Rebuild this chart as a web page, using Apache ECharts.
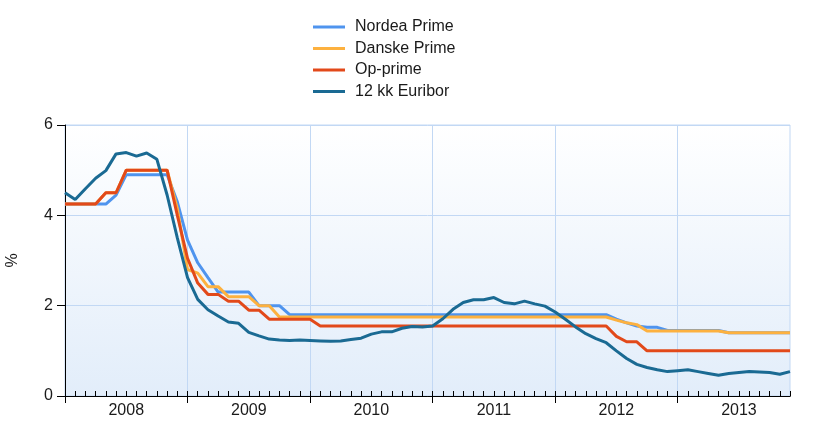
<!DOCTYPE html>
<html>
<head>
<meta charset="utf-8">
<script src="https://cdn.jsdelivr.net/npm/echarts@6/dist/echarts.min.js"></script>
<style>
html,body{margin:0;padding:0;background:#fff;}
#chart{width:818px;height:426px;}
</style>
</head>
<body>
<div id="chart"></div>
<script>
// Years and months of the category axis (one point per month, Jan 2008 .. Dec 2013)
var years = ['2008', '2009', '2010', '2011', '2012', '2013'];
var monthNames = ['01', '02', '03', '04', '05', '06', '07', '08', '09', '10', '11', '12'];
var categories = [];
years.forEach(function (y) { monthNames.forEach(function (m) { categories.push(y + '-' + m); }); });

var seriesNames = ['Nordea Prime', 'Danske Prime', 'Op-prime', '12 kk Euribor'];

var nordeaPrime = [
  4.25, 4.25, 4.25, 4.25, 4.25, 4.45, 4.9, 4.9, 4.9, 4.9, 4.9, 4.3,
  3.45, 2.95, 2.62, 2.3, 2.3, 2.3, 2.3, 2.0, 2.0, 2.0, 1.8, 1.8,
  1.8, 1.8, 1.8, 1.8, 1.8, 1.8, 1.8, 1.8, 1.8, 1.8, 1.8, 1.8,
  1.8, 1.8, 1.8, 1.8, 1.8, 1.8, 1.8, 1.8, 1.8, 1.8, 1.8, 1.8,
  1.8, 1.8, 1.8, 1.8, 1.8, 1.8, 1.7, 1.62, 1.55, 1.52, 1.52, 1.45,
  1.45, 1.45, 1.45, 1.45, 1.45, 1.4, 1.4, 1.4, 1.4, 1.4, 1.4, 1.4
];
var danskePrime = [
  4.25, 4.25, 4.25, 4.25, 4.5, 4.5, 5.0, 5.0, 5.0, 5.0, 5.0, 4.15,
  2.8, 2.72, 2.42, 2.42, 2.2, 2.2, 2.2, 2.0, 2.0, 1.75, 1.75, 1.75,
  1.75, 1.75, 1.75, 1.75, 1.75, 1.75, 1.75, 1.75, 1.75, 1.75, 1.75, 1.75,
  1.75, 1.75, 1.75, 1.75, 1.75, 1.75, 1.75, 1.75, 1.75, 1.75, 1.75, 1.75,
  1.75, 1.75, 1.75, 1.75, 1.75, 1.75, 1.68, 1.62, 1.58, 1.44, 1.44, 1.44,
  1.44, 1.44, 1.44, 1.44, 1.44, 1.4, 1.4, 1.4, 1.4, 1.4, 1.4, 1.4
];
var opPrime = [
  4.25, 4.25, 4.25, 4.25, 4.5, 4.5, 5.0, 5.0, 5.0, 5.0, 5.0, 4.0,
  3.05, 2.5, 2.25, 2.25, 2.1, 2.1, 1.9, 1.9, 1.7, 1.7, 1.7, 1.7,
  1.7, 1.55, 1.55, 1.55, 1.55, 1.55, 1.55, 1.55, 1.55, 1.55, 1.55, 1.55,
  1.55, 1.55, 1.55, 1.55, 1.55, 1.55, 1.55, 1.55, 1.55, 1.55, 1.55, 1.55,
  1.55, 1.55, 1.55, 1.55, 1.55, 1.55, 1.32, 1.2, 1.2, 1.0, 1.0, 1.0,
  1.0, 1.0, 1.0, 1.0, 1.0, 1.0, 1.0, 1.0, 1.0, 1.0, 1.0, 1.0
];
var euribor12 = [
  4.50, 4.35, 4.59, 4.82, 4.99, 5.36, 5.39, 5.31, 5.38, 5.24, 4.45, 3.50,
  2.62, 2.14, 1.91, 1.77, 1.64, 1.61, 1.41, 1.33, 1.26, 1.24, 1.23, 1.24,
  1.23, 1.22, 1.21, 1.22, 1.25, 1.28, 1.37, 1.42, 1.42, 1.50, 1.54, 1.53,
  1.55, 1.71, 1.92, 2.07, 2.13, 2.13, 2.18, 2.07, 2.04, 2.10, 2.04, 1.99,
  1.86, 1.70, 1.53, 1.38, 1.27, 1.18, 1.00, 0.83, 0.70, 0.63, 0.58, 0.54,
  0.56, 0.58, 0.54, 0.50, 0.46, 0.50, 0.52, 0.54, 0.53, 0.52, 0.48, 0.54
];
var yTicks = { min: 0, max: 6, interval: 2 };

var colors = ['#4f94ee', '#fdb13f', '#e2491a', '#1a6a93'];
var values = [nordeaPrime, danskePrime, opPrime, euribor12];

var chart = echarts.init(document.getElementById('chart'), null, { renderer: 'canvas' });
var font = 'Liberation Sans, Arial, sans-serif';
var gridBlue = '#c2d8f4';

chart.setOption({
  animation: false,
  backgroundColor: '#ffffff',
  color: colors,
  legend: {
    data: seriesNames,
    orient: 'vertical',
    left: 313,
    top: 19,
    padding: 0,
    icon: 'rect',
    itemWidth: 32,
    itemHeight: 3,
    itemGap: 5.5,
    textStyle: { fontFamily: font, fontSize: 16, color: '#1a1a1a', padding: [0, 0, 0, 5] }
  },
  grid: {
    left: 65, right: 28, top: 125, bottom: 30,
    containLabel: false,
    outerBoundsMode: 'none',
    show: true,
    borderColor: gridBlue,
    borderWidth: 1,
    backgroundColor: new echarts.graphic.LinearGradient(0, 0, 0, 1, [
      { offset: 0, color: '#ffffff' },
      { offset: 1, color: '#e2edfa' }
    ])
  },
  xAxis: [
    {
      type: 'category',
      position: 'bottom',
      data: categories,
      boundaryGap: false,
      axisLine: { show: true, lineStyle: { color: '#000', width: 1 } },
      axisTick: { show: true, inside: true, length: 5, interval: 0, lineStyle: { color: '#000', width: 1 } },
      axisLabel: {
        interval: function (idx) { return idx % 12 === 6; },
        formatter: function (v) { return v.slice(0, 4); },
        fontFamily: font, fontSize: 16, color: '#1a1a1a', margin: 7
      },
      splitLine: { show: false },
      z: 5
    },
    {
      type: 'category',
      position: 'bottom',
      data: categories,
      boundaryGap: false,
      axisLine: { show: true, lineStyle: { color: '#000', width: 1 } },
      axisTick: { show: true, length: 7, interval: function (idx) { return idx % 12 === 0; }, lineStyle: { color: '#000' } },
      axisLabel: { show: false },
      splitLine: { show: true, interval: function (idx) { return idx % 12 === 0 && idx > 0; }, lineStyle: { color: gridBlue, width: 1 } }
    }
  ],
  yAxis: {
    type: 'value',
    min: yTicks.min, max: yTicks.max, interval: yTicks.interval,
    name: '%',
    nameLocation: 'middle',
    nameGap: 44,
    nameRotate: 90,
    nameTextStyle: { fontFamily: font, fontSize: 16, color: '#1a1a1a' },
    axisLine: { show: true, lineStyle: { color: '#000', width: 1 } },
    axisTick: { show: true, length: 8, lineStyle: { color: '#000' } },
    axisLabel: { fontFamily: font, fontSize: 16, color: '#1a1a1a', margin: 12 },
    splitLine: { show: true, lineStyle: { color: gridBlue, width: 1 } }
  },
  series: seriesNames.map(function (name, k) {
    return {
      name: name,
      type: 'line',
      xAxisIndex: 0,
      data: values[k],
      symbol: 'none',
      showSymbol: false,
      lineStyle: { width: 3, color: colors[k] },
      itemStyle: { color: colors[k] },
      z: 2 + k
    };
  })
});
</script>
</body>
</html>
